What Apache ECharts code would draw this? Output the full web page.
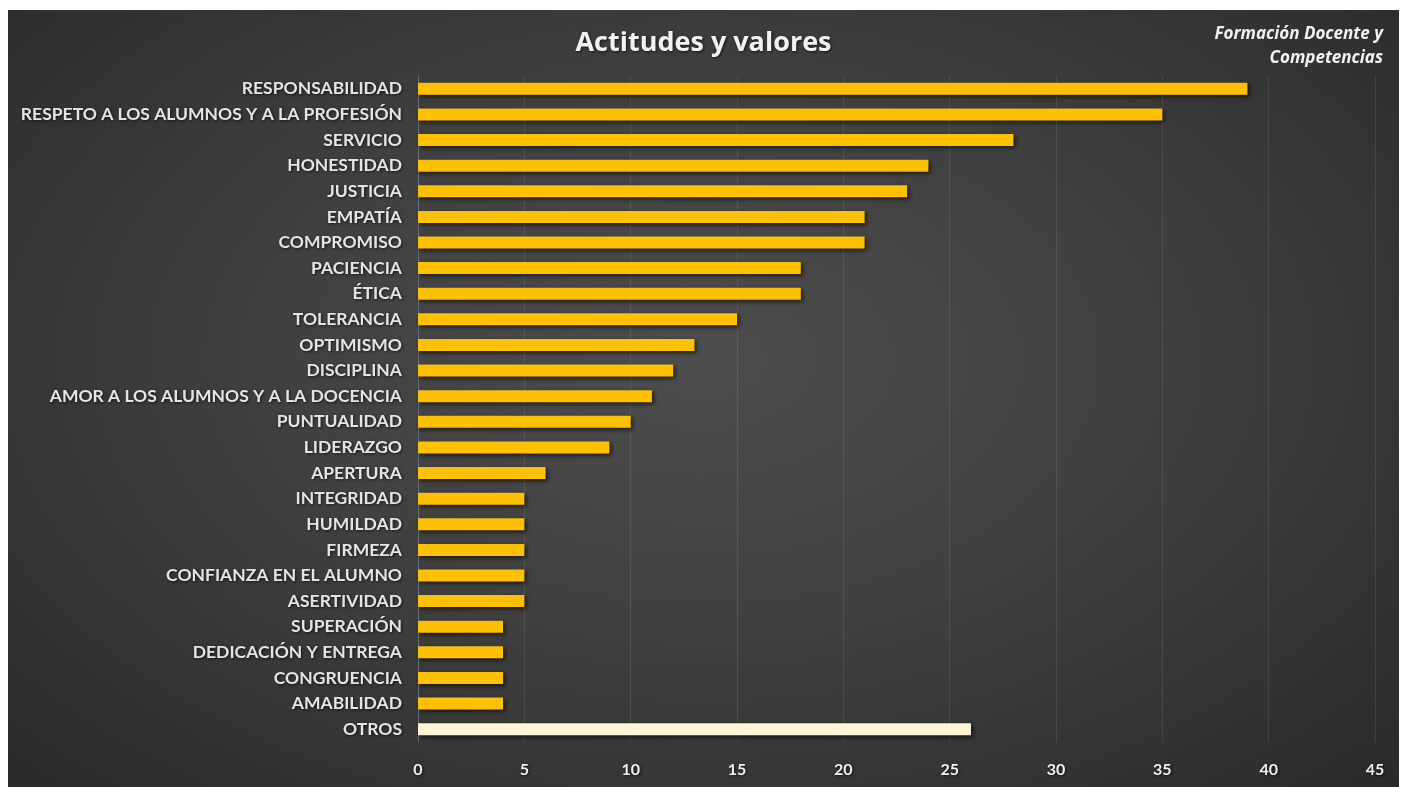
<!DOCTYPE html>
<html>
<head>
<meta charset="utf-8">
<script src="https://cdn.jsdelivr.net/npm/echarts@6/dist/echarts.min.js"></script>
<style>
  html, body { margin: 0; padding: 0; background: #ffffff; }
  #chart {
    position: absolute; left: 8px; top: 10px; width: 1391px; height: 777px;
    background: radial-gradient(ellipse at 50% 45%, #4d4d4d 0%, #404040 45%, #2a2a2a 100%);
  }
</style>
</head>
<body>
<div id="chart"></div>
<script>
// Values, top to bottom
const categories = [
  'RESPONSABILIDAD', 'RESPETO A LOS ALUMNOS Y A LA PROFESIÓN', 'SERVICIO', 'HONESTIDAD',
  'JUSTICIA', 'EMPATÍA', 'COMPROMISO', 'PACIENCIA', 'ÉTICA', 'TOLERANCIA', 'OPTIMISMO',
  'DISCIPLINA', 'AMOR A LOS ALUMNOS Y A LA DOCENCIA', 'PUNTUALIDAD', 'LIDERAZGO',
  'APERTURA', 'INTEGRIDAD', 'HUMILDAD', 'FIRMEZA', 'CONFIANZA EN EL ALUMNO',
  'ASERTIVIDAD', 'SUPERACIÓN', 'DEDICACIÓN Y ENTREGA', 'CONGRUENCIA', 'AMABILIDAD', 'OTROS'
];
const values = [39, 35, 28, 24, 23, 21, 21, 18, 18, 15, 13, 12, 11, 10, 9, 6, 5, 5, 5, 5, 5, 4, 4, 4, 4, 26];
const highlightCategory = 'OTROS';
const sourceLines = ['Formación Docente y', 'Competencias'];

const chart = echarts.init(document.getElementById('chart'), null, { renderer: 'canvas' });

const labelFont = 'Lato, "Open Sans", "DejaVu Sans", sans-serif';
const shadowText = {
  textShadowColor: 'rgba(0,0,0,0.65)', textShadowBlur: 3, textShadowOffsetX: 1, textShadowOffsetY: 1
};

chart.setOption({
  backgroundColor: 'transparent',
  title: {
    text: 'Actitudes y valores',
    left: 'center', top: 15,
    textStyle: Object.assign({ color: '#f2f2f2', fontSize: 27, fontWeight: 'bold',
      fontFamily: '"Open Sans", Lato, sans-serif' }, shadowText)
  },
  // source note, top right, each line right-aligned
  graphic: sourceLines.map((line, i) => ({
    type: 'text',
    x: 1375, y: 24 + i * 24,
    style: {
      text: line,
      fill: '#f2f2f2', align: 'right', verticalAlign: 'middle',
      font: 'italic bold 17px "Open Sans", Lato, sans-serif',
      shadowColor: 'rgba(0,0,0,0.7)', shadowBlur: 3, shadowOffsetX: 1, shadowOffsetY: 1
    }
  })),
  grid: { left: 410, right: 24, top: 66, bottom: 45, containLabel: false },
  xAxis: {
    type: 'value', min: 0, max: 45, interval: 5,
    axisLine: { show: false },
    axisTick: { show: false },
    splitLine: { show: true, lineStyle: { color: 'rgba(255,255,255,0.09)', width: 1 } },
    axisLabel: Object.assign({ color: '#f0f0f0', fontSize: 16, fontWeight: 'bold', fontFamily: labelFont, margin: 20 }, shadowText)
  },
  yAxis: {
    type: 'category', data: categories, inverse: true,
    axisLine: { show: true, lineStyle: { color: '#6a6a78', width: 1 } },
    axisTick: { show: false },
    axisLabel: Object.assign({ color: '#e4e4e4', fontSize: 17.5, fontWeight: 'bold', fontFamily: labelFont, margin: 16 }, shadowText)
  },
  series: [{
    type: 'bar',
    barWidth: 12,
    data: values.map((v, i) => ({
      value: v,
      itemStyle: {
        color: categories[i] === highlightCategory ? '#fff5d6' : '#ffc000'
      }
    })),
    itemStyle: {
      shadowColor: 'rgba(0,0,0,0.65)', shadowBlur: 4, shadowOffsetX: 2, shadowOffsetY: 2
    },
    animation: false
  }],
  animation: false
});
</script>
</body>
</html>
